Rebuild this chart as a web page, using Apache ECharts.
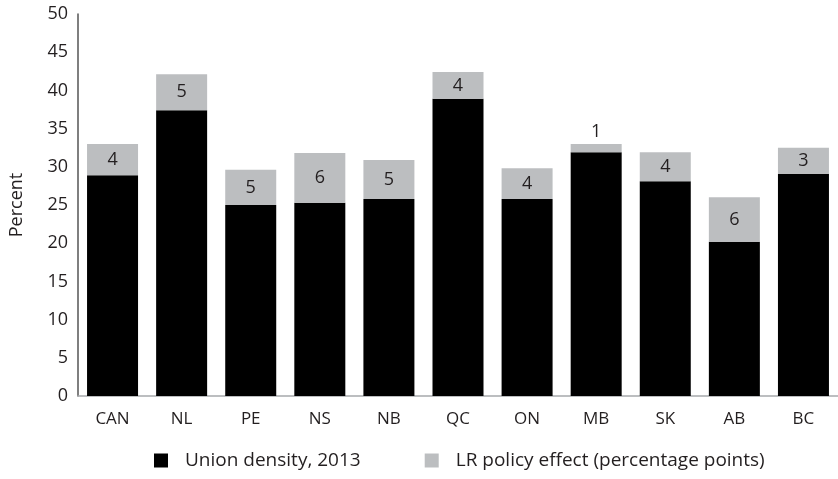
<!DOCTYPE html>
<html>
<head>
<meta charset="utf-8">
<script src="https://cdn.jsdelivr.net/npm/echarts@6/dist/echarts.min.js"></script>
<style>html,body{margin:0;padding:0;background:#fff}#c{width:838px;height:479px}</style>
</head>
<body>
<div id="c"></div>
<script>
const categories = ['CAN','NL','PE','NS','NB','QC','ON','MB','SK','AB','BC'];
const unionDensity = [28.9, 37.4, 25.0, 25.3, 25.8, 38.9, 25.8, 31.9, 28.1, 20.2, 29.1];
const policyEffect = [4.1, 4.7, 4.6, 6.5, 5.1, 3.5, 4.0, 1.1, 3.8, 5.8, 3.4];
const effectLabels = ['4','5','5','6','5','4','4','1','4','6','3'];
const yTicks = [0, 50, 5];

const font = '"Open Sans", "DejaVu Sans", sans-serif';
const txt = '#231f20';
const chart = echarts.init(document.getElementById('c'));
chart.setOption({
  animation: false,
  textStyle: { fontFamily: font, color: txt },
  grid: { left: 77, right: -5, top: 14, bottom: 83, containLabel: false },
  legend: {
    left: 149, bottom: 4, itemWidth: 14, itemHeight: 14, itemGap: 64,
    icon: 'rect',
    textStyle: { fontFamily: font, fontSize: 19, color: txt, padding: [0, 0, 0, 12] },
    data: ['Union density, 2013', 'LR policy effect (percentage points)']
  },
  xAxis: {
    type: 'category', data: categories,
    axisLine: { lineStyle: { color: '#a7a9ac', width: 1.5 } },
    axisTick: { inside: true, length: 7, lineStyle: { color: '#555' } },
    axisLabel: { fontFamily: font, fontSize: 17, color: txt, margin: 15 }
  },
  yAxis: {
    type: 'value', min: yTicks[0], max: yTicks[1], interval: yTicks[2],
    name: 'Percent', nameLocation: 'middle', nameGap: 52, nameRotate: 90,
    nameTextStyle: { fontFamily: font, fontSize: 18, color: txt },
    axisLine: { show: true, lineStyle: { color: '#555', width: 1.5 } },
    axisTick: { show: false },
    splitLine: { show: false },
    axisLabel: { fontFamily: font, fontSize: 18, color: txt, margin: 10 }
  },
  series: [
    {
      name: 'Union density, 2013', type: 'bar', stack: 't', barWidth: 51,
      itemStyle: { color: '#000' }, data: unionDensity
    },
    {
      name: 'LR policy effect (percentage points)', type: 'bar', stack: 't', barWidth: 51,
      itemStyle: { color: '#bcbec0' },
      data: policyEffect.map((v, i) => ({
        value: v,
        label: { show: true, position: v < 2 ? 'top' : 'inside', distance: 3,
          formatter: effectLabels[i], fontFamily: font, fontSize: 18, color: txt }
      }))
    }
  ]
});
</script>
</body>
</html>
